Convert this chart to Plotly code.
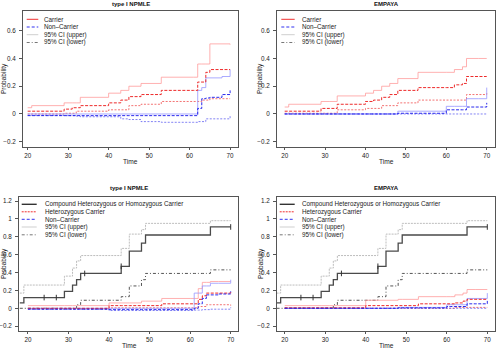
import plotly.graph_objects as go

W, H = 496, 349
FONT = "Liberation Sans, Arial, sans-serif"

# ---------------- data: top panels (Carrier vs Non-Carrier) ----------------
npmle_time = [20, 21, 29, 31, 32, 33, 40, 43, 45, 48, 53, 61, 62, 63, 64, 65, 68, 70]
npmle_carrier = [0.02, 0.02, 0.035, 0.045, 0.045, 0.06, 0.08, 0.10, 0.125, 0.14, 0.17, 0.17, 0.23, 0.23, 0.30, 0.32, 0.32, 0.32]
npmle_carrier_upper = [0.045, 0.06, 0.08, 0.08, 0.08, 0.12, 0.15, 0.17, 0.20, 0.22, 0.265, 0.265, 0.36, 0.36, 0.36, 0.505, 0.505, 0.50]
npmle_carrier_lower = [0.0, 0.0, 0.005, 0.005, 0.02, 0.02, 0.03, 0.03, 0.06, 0.07, 0.09, 0.09, 0.09, 0.10, 0.10, 0.11, 0.11, 0.11]
npmle_noncarrier = [-0.012, -0.012, -0.012, -0.012, -0.012, -0.012, -0.012, -0.012, -0.012, -0.012, -0.012, -0.012, 0.04, 0.11, 0.115, 0.12, 0.14, 0.17]
npmle_noncarrier_upper = [0.0, 0.0, 0.0, 0.0, 0.0, 0.0, 0.0, 0.0, 0.0, 0.0, 0.0, 0.0, 0.17, 0.19, 0.26, 0.26, 0.27, 0.32]
npmle_noncarrier_lower = [-0.01, -0.01, -0.012, -0.012, -0.015, -0.02, -0.02, -0.035, -0.04, -0.055, -0.06, -0.06, -0.055, -0.055, -0.035, -0.035, -0.035, -0.01]

empaya_time = [20, 21, 29, 31, 33, 40, 42, 44, 46, 48, 53, 60, 62, 64, 65, 68, 70]
empaya_carrier = [0.02, 0.02, 0.04, 0.04, 0.07, 0.09, 0.10, 0.12, 0.14, 0.17, 0.19, 0.19, 0.21, 0.22, 0.27, 0.27, 0.27]
empaya_carrier_upper = [0.05, 0.07, 0.09, 0.09, 0.13, 0.15, 0.17, 0.20, 0.22, 0.255, 0.30, 0.30, 0.32, 0.34, 0.40, 0.40, 0.40]
empaya_carrier_lower = [0.005, 0.005, 0.005, 0.005, 0.03, 0.04, 0.04, 0.06, 0.06, 0.08, 0.10, 0.10, 0.10, 0.10, 0.14, 0.14, 0.15]
empaya_noncarrier = [0.0, 0.0, 0.0, 0.0, 0.0, 0.0, 0.0, 0.0, 0.0, 0.005, 0.005, 0.03, 0.03, 0.03, 0.05, 0.05, 0.08]
empaya_noncarrier_upper = [0.0, 0.0, 0.0, 0.0, 0.0, 0.0, 0.0, 0.0, 0.0, 0.02, 0.02, 0.055, 0.055, 0.055, 0.11, 0.11, 0.19]
empaya_noncarrier_lower = [0.0, 0.0, 0.0, 0.0, 0.0, 0.0, 0.0, 0.0, 0.0, 0.0, 0.0, 0.0, 0.0, 0.0, 0.0, 0.0, 0.005]

# ---------------- data: bottom panels (three genotype groups) ----------------
bottom_time = [18, 19, 20, 29, 31, 32, 33, 40, 43, 45, 48, 49, 53, 60, 61, 62, 63, 64, 65, 67, 70]
compound = [0.06, 0.12, 0.12, 0.19, 0.26, 0.32, 0.39, 0.39, 0.47, 0.64, 0.73, 0.82, 0.82, 0.82, 0.82, 0.82, 0.82, 0.82, 0.91, 0.91, 0.91]
compound_upper = [0.17, 0.26, 0.26, 0.36, 0.45, 0.53, 0.59, 0.59, 0.67, 0.83, 0.88, 0.95, 0.95, 0.95, 0.95, 0.95, 0.95, 0.95, 0.98, 0.98, 0.98]
compound_lower = [0.0, 0.0, 0.0, 0.0, 0.0, 0.04, 0.09, 0.09, 0.13, 0.25, 0.32, 0.39, 0.39, 0.39, 0.39, 0.39, 0.39, 0.39, 0.43, 0.43, 0.43]
censor_time = [24, 27, 34, 43, 70]
censor_prob = [0.12, 0.12, 0.39, 0.47, 0.91]

npmle_het = [None, None, 0.0, 0.0, 0.0, 0.0, 0.0, 0.03, 0.03, 0.03, 0.03, 0.03, 0.05, 0.05, 0.05, 0.10, 0.14, 0.17, 0.17, 0.17, 0.18]
npmle_het_upper = [None, None, 0.03, 0.03, 0.03, 0.03, 0.03, 0.06, 0.06, 0.06, 0.08, 0.08, 0.11, 0.11, 0.11, 0.22, 0.29, 0.29, 0.30, 0.30, 0.30]
npmle_het_lower = [None, None, -0.005, -0.005, -0.005, -0.005, -0.005, 0.005, 0.005, 0.005, 0.005, 0.005, 0.005, 0.005, 0.005, 0.02, 0.02, 0.04, 0.04, 0.04, 0.03]
npmle_non = [None, None, -0.01, -0.01, -0.01, -0.01, -0.01, -0.015, -0.015, -0.015, -0.015, -0.015, -0.015, -0.015, 0.0, 0.05, 0.11, 0.15, 0.15, 0.16, 0.19]
npmle_non_upper = [None, None, 0.0, 0.0, 0.0, 0.0, 0.0, 0.0, 0.0, 0.0, 0.0, 0.0, 0.0, 0.0, 0.17, 0.17, 0.25, 0.25, 0.28, 0.28, 0.32]
npmle_non_lower = [None, None, -0.01, -0.01, -0.01, -0.01, -0.01, -0.025, -0.025, -0.025, -0.025, -0.025, -0.025, -0.025, -0.02, -0.02, -0.015, -0.015, -0.01, -0.01, 0.01]

empaya_het = [None, None, 0.005, 0.005, 0.005, 0.005, 0.005, 0.03, 0.03, 0.03, 0.03, 0.03, 0.05, 0.05, 0.05, 0.06, 0.06, 0.08, 0.10, 0.10, 0.10]
empaya_het_upper = [None, None, 0.03, 0.03, 0.03, 0.03, 0.03, 0.09, 0.09, 0.09, 0.10, 0.10, 0.13, 0.13, 0.13, 0.15, 0.15, 0.17, 0.21, 0.21, 0.21]
empaya_het_lower = [None, None, 0.0, 0.0, 0.0, 0.0, 0.0, 0.0, 0.0, 0.0, 0.0, 0.0, 0.0, 0.0, 0.0, 0.01, 0.01, 0.01, 0.01, 0.01, 0.01]
empaya_non = [None, None, 0.0, 0.0, 0.0, 0.0, 0.0, 0.0, 0.0, 0.0, 0.005, 0.005, 0.005, 0.02, 0.02, 0.02, 0.02, 0.02, 0.05, 0.05, 0.10]
empaya_non_upper = [None, None, 0.0, 0.0, 0.0, 0.0, 0.0, 0.0, 0.0, 0.0, 0.01, 0.01, 0.01, 0.04, 0.04, 0.04, 0.04, 0.04, 0.11, 0.11, 0.17]
empaya_non_lower = [None, None, 0.0, 0.0, 0.0, 0.0, 0.0, 0.0, 0.0, 0.0, 0.0, 0.0, 0.0, 0.0, 0.0, 0.0, 0.0, 0.0, 0.0, 0.0, 0.0]

panel_titles = ["type I NPMLE", "EMPAYA", "type I NPMLE", "EMPAYA"]
top_legend = ["Carrier", "Non\u2013Carrier", "95% CI (upper)", "95% CI (lower)"]
bottom_legend = ["Compound Heterozygous or Homozygous Carrier", "Heterozygous Carrier",
                 "Non\u2013Carrier", "95% CI (upper)", "95% CI (lower)"]
top_yticks = [-0.2, 0, 0.2, 0.4, 0.6]
top_yticktext = ["\u22120.2", "0", "0.2", "0.4", "0.6"]
bottom_yticks = [-0.2, 0, 0.2, 0.4, 0.6, 0.8, 1, 1.2]
bottom_yticktext = ["\u22120.2", "0", "0.2", "0.4", "0.6", "0.8", "1", "1.2"]
xticks = [20, 30, 40, 50, 60, 70]

# ---------------- styles ----------------
RED_EST = dict(color="rgba(235,20,20,0.9)", width=1, dash="3px,1.5px")
RED_UP = dict(color="rgba(255,150,150,0.75)", width=1, dash="solid")
RED_LO = dict(color="rgba(240,80,80,0.8)", width=1, dash="2px,1.5px")
BLUE_EST = dict(color="rgba(20,20,235,0.9)", width=1, dash="3px,1.5px")
BLUE_UP = dict(color="rgba(150,150,255,0.8)", width=1, dash="solid")
BLUE_LO = dict(color="rgba(90,90,240,0.75)", width=1, dash="2px,1.5px")
BLK_EST = dict(color="#4a4a4a", width=1.3, dash="solid")
BLK_UP = dict(color="#bdbdbd", width=1, dash="2px,1px")
BLK_LO = dict(color="#555555", width=1, dash="3px,2px,1px,2px")

fig = go.Figure()


def axref(i):
    return ("x", "y") if i == 1 else ("x%d" % i, "y%d" % i)


def add_line(x, y, panel, style):
    xa, ya = axref(panel)
    fig.add_trace(go.Scatter(x=x, y=y, xaxis=xa, yaxis=ya, mode="lines",
                             line=dict(shape="hv", **style), connectgaps=False,
                             showlegend=False, hoverinfo="skip"))


# panel 1: type I NPMLE top
add_line(npmle_time, npmle_carrier_upper, 1, RED_UP)
add_line(npmle_time, npmle_carrier_lower, 1, RED_LO)
add_line(npmle_time, npmle_noncarrier_upper, 1, BLUE_UP)
add_line(npmle_time, npmle_noncarrier_lower, 1, BLUE_LO)
add_line(npmle_time, npmle_carrier, 1, RED_EST)
add_line(npmle_time, npmle_noncarrier, 1, BLUE_EST)

# panel 2: EMPAYA top
add_line(empaya_time, empaya_carrier_upper, 2, RED_UP)
add_line(empaya_time, empaya_carrier_lower, 2, RED_LO)
add_line(empaya_time, empaya_noncarrier_upper, 2, BLUE_UP)
add_line(empaya_time, empaya_noncarrier_lower, 2, BLUE_LO)
add_line(empaya_time, empaya_carrier, 2, RED_EST)
add_line(empaya_time, empaya_noncarrier, 2, BLUE_EST)

# panels 3 & 4: bottom
for p, het, het_u, het_l, non, non_u, non_l in [
        (3, npmle_het, npmle_het_upper, npmle_het_lower, npmle_non, npmle_non_upper, npmle_non_lower),
        (4, empaya_het, empaya_het_upper, empaya_het_lower, empaya_non, empaya_non_upper, empaya_non_lower)]:
    add_line(bottom_time, compound_upper, p, BLK_UP)
    add_line(bottom_time, compound_lower, p, BLK_LO)
    add_line(bottom_time, het_u, p, RED_UP)
    add_line(bottom_time, het_l, p, RED_LO)
    add_line(bottom_time, non_u, p, BLUE_UP)
    add_line(bottom_time, non_l, p, BLUE_LO)
    add_line(bottom_time, het, p, RED_EST)
    add_line(bottom_time, non, p, BLUE_EST)
    add_line(bottom_time, compound, p, BLK_EST)
    xa, ya = axref(p)
    fig.add_trace(go.Scatter(x=censor_time, y=censor_prob, xaxis=xa, yaxis=ya, mode="markers",
                             marker=dict(symbol="line-ns", size=4, line=dict(color="#333", width=1)),
                             showlegend=False, hoverinfo="skip"))

# ---------------- layout ----------------
def px_x(v):
    return v / W


def px_y(v):
    return 1 - v / H


boxes = {
    1: (23, 238, 11, 147, [18.85, 71.95], [-0.238, 0.742], top_yticks, top_yticktext),
    2: (277, 495, 11, 147, [18.1, 72.05], [-0.238, 0.742], top_yticks, top_yticktext),
    3: (19, 238, 197, 331, [17.8, 71.8], [-0.254, 1.245], bottom_yticks, bottom_yticktext),
    4: (277, 495, 197, 331, [18.1, 71.9], [-0.254, 1.245], bottom_yticks, bottom_yticktext),
}

TICK_SIZE = 6.3
LEG_SIZE = 6.3

layout = dict(width=W, height=H, margin=dict(l=0, r=0, t=0, b=0),
              paper_bgcolor="white", plot_bgcolor="white",
              font=dict(family=FONT, size=TICK_SIZE, color="#222"), showlegend=False)

axis_common = dict(showline=True, mirror=True, linecolor="#555", linewidth=1,
                   ticks="outside", tickcolor="#555", tickwidth=1,
                   showgrid=False, zeroline=False, fixedrange=True,
                   tickfont=dict(family=FONT, size=TICK_SIZE, color="#222"))

for p, (x0, x1, y0, y1, xr, yr, yt, ytt) in boxes.items():
    xa, ya = axref(p)
    xkey = "xaxis" if p == 1 else "xaxis%d" % p
    ykey = "yaxis" if p == 1 else "yaxis%d" % p
    layout[xkey] = dict(domain=[px_x(x0), px_x(x1)], range=xr, anchor=ya,
                        tickvals=xticks, ticklen=2, **axis_common)
    layout[ykey] = dict(domain=[px_y(y1), px_y(y0)], range=yr, anchor=xa,
                        tickvals=yt, ticktext=ytt, ticklen=3, ticklabelstandoff=2,
                        **axis_common)

annotations = []
shapes = []

title_pos = [(130.5, 4.5), (386, 4.5), (128.7, 188), (386, 188)]
time_pos = [(130, 161.5), (386, 161.5), (129, 345.5), (386, 345.5)]
prob_pos = [(4, 79), (260, 79), (4, 264), (261, 264)]
for i in range(4):
    annotations.append(dict(text="<b>%s</b>" % panel_titles[i], x=px_x(title_pos[i][0]), y=px_y(title_pos[i][1]),
                            xref="paper", yref="paper", showarrow=False, xanchor="center", yanchor="middle",
                            font=dict(family=FONT, size=6, color="#111")))
    annotations.append(dict(text="Time", x=px_x(time_pos[i][0]), y=px_y(time_pos[i][1]),
                            xref="paper", yref="paper", showarrow=False, xanchor="center", yanchor="middle",
                            font=dict(family=FONT, size=6.6, color="#222")))
    annotations.append(dict(text="Probability", x=px_x(prob_pos[i][0]), y=px_y(prob_pos[i][1]),
                            xref="paper", yref="paper", showarrow=False, xanchor="center", yanchor="middle",
                            textangle=-90, font=dict(family=FONT, size=6.5, color="#222")))

# legends (drawn as keys + text)
top_keys = [dict(color="#f03030", width=1, dash="solid"),
            dict(color="#3030f0", width=1, dash="3px,2px"),
            dict(color="#cfcfcf", width=1, dash="solid"),
            dict(color="#777777", width=1, dash="3px,2px,1px,2px")]
bottom_keys = [dict(color="#333333", width=1.4, dash="solid"),
               dict(color="#f03030", width=1, dash="2px,1px"),
               dict(color="#3030f0", width=1, dash="3px,2px"),
               dict(color="#cfcfcf", width=1, dash="solid"),
               dict(color="#777777", width=1, dash="3px,2px,1px,2px")]

legend_specs = [
    (26.7, 38.3, 41.7, [19.3, 27.0, 34.7, 42.5], top_legend, top_keys),
    (281.3, 294.7, 299.7, [19.3, 27.0, 34.7, 42.5], top_legend, top_keys),
    (21.7, 36.7, 42.7, [204.3, 211.8, 219.3, 227.0, 234.8], bottom_legend, bottom_keys),
    (279.7, 294.7, 299.7, [204.3, 211.8, 219.3, 227.0, 234.8], bottom_legend, bottom_keys),
]
for lx0, lx1, tx, rows, labels, keys in legend_specs:
    for yy, lab, k in zip(rows, labels, keys):
        shapes.append(dict(type="line", xref="paper", yref="paper",
                           x0=px_x(lx0), x1=px_x(lx1), y0=px_y(yy), y1=px_y(yy), line=k))
        annotations.append(dict(text=lab, x=px_x(tx), y=px_y(yy), xref="paper", yref="paper",
                                showarrow=False, xanchor="left", yanchor="middle",
                                font=dict(family=FONT, size=LEG_SIZE, color="#222")))

layout["annotations"] = annotations
layout["shapes"] = shapes
fig.update_layout(**layout)

fig.write_html("out.html", config={"displayModeBar": False, "staticPlot": True},
               post_script="document.body.style.margin='0';document.body.style.overflow='hidden';")
